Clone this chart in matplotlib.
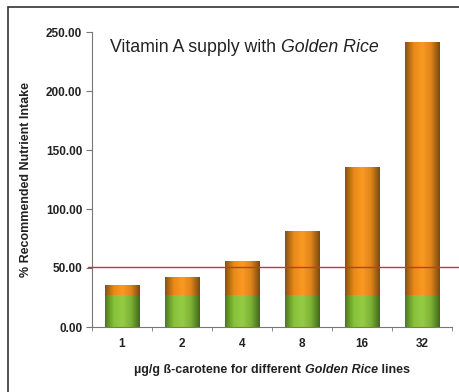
import matplotlib as mpl
mpl.use('Agg')
import matplotlib.pyplot as plt
import numpy as np
from matplotlib.colors import LinearSegmentedColormap
from matplotlib.patches import Rectangle

plt.rcParams['font.family'] = ['Liberation Sans', 'DejaVu Sans']

lines = ['1', '2', '4', '8', '16', '32']
base_rice = [27, 27, 27, 27, 27, 27]
total_intake = [35, 42, 55, 81, 135, 241]
target_level = 51

bar_w = 0.58

# shading to mimic the cylinder look of the original bars
orange_cm = LinearSegmentedColormap.from_list('orange_bar', ['#8a5210', '#e88a18', '#f99a22', '#e0841a', '#7a4a10'])
green_cm = LinearSegmentedColormap.from_list('green_bar', ['#4f7a1c', '#86c23a', '#96cc44', '#7ab234', '#44691a'])
profile = np.linspace(0, 1, 64).reshape(1, -1)


def text_run(fig, x_center, y, parts, size):
    # lay out pieces with different styles one after another, centred on x_center
    objs = []
    for s, kw in parts:
        objs.append(fig.text(0, y, s, fontsize=size, color='#222222', va='center', ha='left', **kw))
    fig.canvas.draw()
    r = fig.canvas.get_renderer()
    widths = [o.get_window_extent(r).width for o in objs]
    x = x_center * fig.bbox.width - sum(widths) / 2
    for o, w in zip(objs, widths):
        o.set_x(x / fig.bbox.width)
        x += w


fig = plt.figure(figsize=(4.6, 3.92), dpi=100)
fig.patches.append(Rectangle((8 / 460, -0.1), 1.2, 1.1 - 7 / 392,
                             transform=fig.transFigure, fill=False,
                             edgecolor='#333333', lw=1.2))
ax = fig.add_axes([92 / 460, 65 / 392, 360 / 460, 295 / 392])

xs = np.arange(len(lines))
for x, g, t in zip(xs, base_rice, total_intake):
    ax.imshow(profile, cmap=orange_cm, aspect='auto', extent=(x - bar_w / 2, x + bar_w / 2, g, t), zorder=2)
    ax.imshow(profile, cmap=green_cm, aspect='auto', extent=(x - bar_w / 2, x + bar_w / 2, 0, g), zorder=2)

ax.axhline(target_level, xmin=-0.01, xmax=1.025, color='#cc3333', lw=1, zorder=4, clip_on=False)

ax.set_xlim(-0.5, len(lines) - 0.5)
ax.set_ylim(0, 250)

ax.set_xticks(xs)
ax.set_xticklabels(lines, fontsize=8.5, fontweight='bold', color='#222222')
ax.set_xticks(np.arange(-0.5, len(lines)), minor=True)
ax.tick_params(axis='x', which='major', length=0, pad=8)
ax.tick_params(axis='x', which='minor', length=3, color='#777777')

yt = [0, 50, 100, 150, 200, 250]
ax.set_yticks(yt)
ax.set_yticklabels(['%.2f' % v for v in yt], fontsize=8.5, fontweight='bold', color='#222222')
ax.tick_params(axis='y', length=4, color='#777777', pad=3)

for s in ['top', 'right']:
    ax.spines[s].set_visible(False)
for s in ['left', 'bottom']:
    ax.spines[s].set_color('#777777')

ax.set_ylabel('% Recommended Nutrient Intake', fontsize=9, fontweight='bold', color='#222222', labelpad=10)

text_run(fig, 272 / 460, 1 - 370 / 392,
         [('µg/g ß-carotene for different ', {'fontweight': 'bold'}),
          ('Golden Rice', {'fontweight': 'bold', 'style': 'italic'}),
          (' lines', {'fontweight': 'bold'})], 9)

text_run(fig, 244 / 460, 1 - 47 / 392,
         [('Vitamin A supply with ', {}),
          ('Golden Rice', {'style': 'italic'})], 12.8)

fig.savefig('out.png', dpi=100)
